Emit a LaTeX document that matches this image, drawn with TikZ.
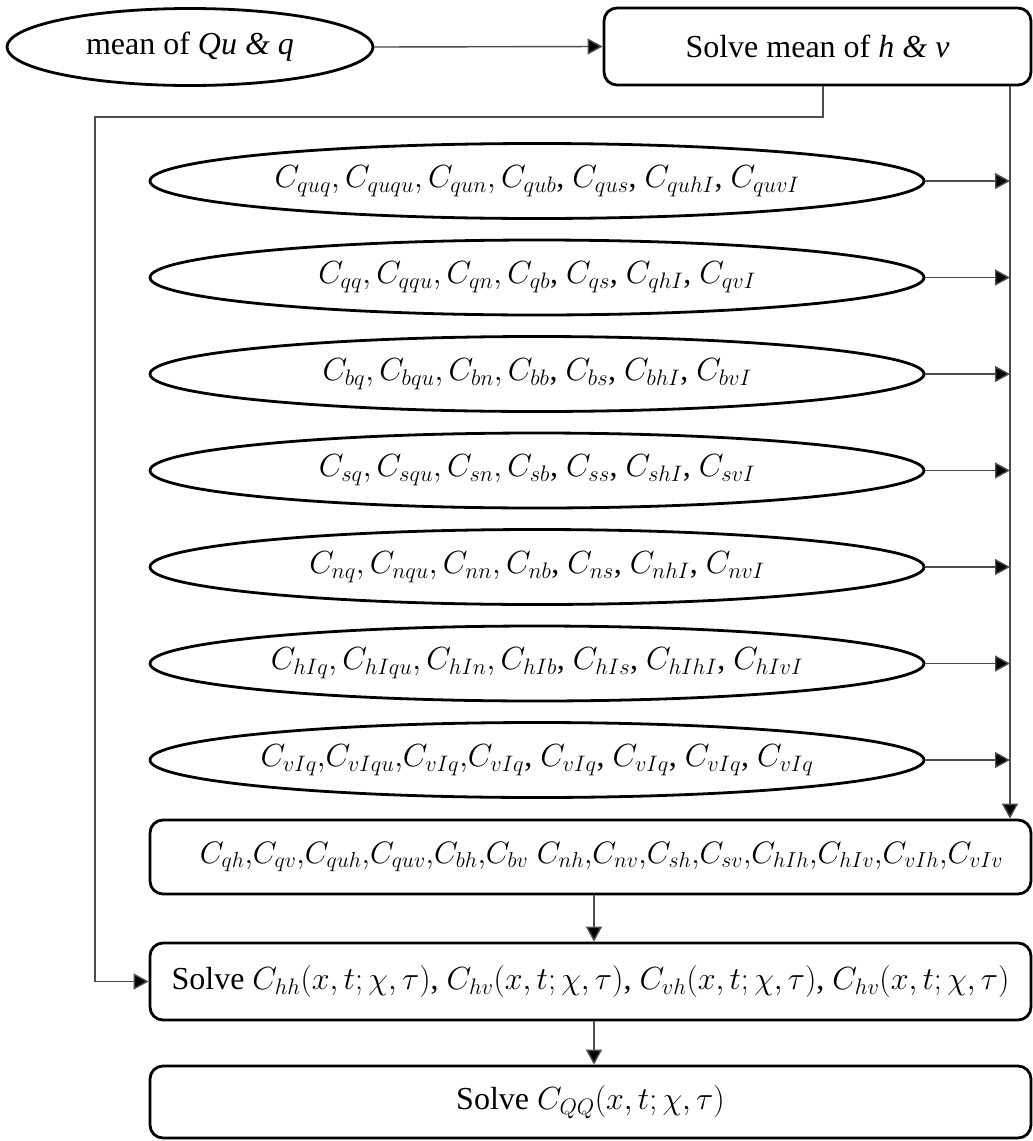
\RequirePackage{fix-cm}
\documentclass[tikz,border=0pt]{standalone}
\usepackage{fontspec}
\setmainfont{Liberation Serif}
\usetikzlibrary{shapes.geometric,arrows.meta}
\begin{document}
\begin{tikzpicture}[x=1pt,y=-1pt,
  every node/.style={font=\fontsize{32}{38}\selectfont},
  ell/.style={draw, ellipse, line width=2.8pt, inner xsep=-80pt, inner ysep=0pt, minimum width=774pt, minimum height=75pt},
  rbox/.style={draw, rounded corners=13pt, line width=2.8pt, inner sep=0pt},
  conn/.style={line width=1.4pt, draw=black!70, -{Triangle[length=15pt,width=16pt,fill=black]}}]
\useasboundingbox (0,0) rectangle (1033,1141);

\node[ell, inner xsep=0pt, minimum width=366pt, minimum height=77pt] (mq) at (190,47) {mean of \textit{Qu \& q}};
\node[rbox, minimum width=427pt, minimum height=77pt] (mh) at (817.5,46.5) {Solve mean of \textit{h \& v}};

\node[ell] (e1) at (537,181) {$C_{quq},C_{ququ},C_{qun},C_{qub}$, $C_{qus}$, $C_{quhI}$, $C_{quvI}$};
\node[ell] (e2) at (537,277.5) {$C_{qq},C_{qqu},C_{qn},C_{qb}$, $C_{qs}$, $C_{qhI}$, $C_{qvI}$};
\node[ell] (e3) at (537,374) {$C_{bq},C_{bqu},C_{bn},C_{bb}$, $C_{bs}$, $C_{bhI}$, $C_{bvI}$};
\node[ell] (e4) at (537,470.5) {$C_{sq},C_{squ},C_{sn},C_{sb}$, $C_{ss}$, $C_{shI}$, $C_{svI}$};
\node[ell] (e5) at (537,567) {$C_{nq},C_{nqu},C_{nn},C_{nb}$, $C_{ns}$, $C_{nhI}$, $C_{nvI}$};
\node[ell] (e6) at (537,663.5) {$C_{hIq},C_{hIqu},C_{hIn},C_{hIb}$, $C_{hIs}$, $C_{hIhI}$, $C_{hIvI}$};
\node[ell] (e7) at (537,760) {$C_{vIq}{,}C_{vIqu}{,}C_{vIq}{,}C_{vIq}$, $C_{vIq}$, $C_{vIq}$, $C_{vIq}$, $C_{vIq}$};

\node[rbox, minimum width=881pt, minimum height=74pt, font=\fontsize{31}{37}\selectfont] (cm) at (590.5,857)
  {\hspace*{22pt}$C_{qh}{,}C_{qv}{,}C_{quh}{,}C_{quv}{,}C_{bh}{,}C_{bv}\;C_{nh}{,}C_{nv}{,}C_{sh}{,}C_{sv}{,}C_{hIh}{,}C_{hIv}{,}C_{vIh}{,}C_{vIv}$};
\node[rbox, minimum width=881pt, minimum height=77pt] (sh) at (590.5,981.5)
  {Solve $C_{hh}(x,t;\chi,\tau)$, $C_{hv}(x,t;\chi,\tau)$, $C_{vh}(x,t;\chi,\tau)$, $C_{hv}(x,t;\chi,\tau)$};
\node[rbox, minimum width=881pt, minimum height=72pt] (sq) at (590.5,1102)
  {Solve $C_{QQ}(x,t;\chi,\tau)$};

\coordinate (rl) at (1010,0);
\coordinate (mk) at (823,0);
\coordinate (lk) at (95,117);
\coordinate (ax) at (594,0);

\draw[conn] (mq.east) -- (mh.west);
\draw[conn] (mh.south -| rl) -- (cm.north -| rl);
\draw[conn] (mh.south -| mk) |- (lk) |- (sh.west);
\foreach \e in {e1,e2,e3,e4,e5,e6,e7}
  \draw[conn] (\e.east) -- (\e.east -| rl);
\draw[conn] (cm.south -| ax) -- (sh.north -| ax);
\draw[conn] (sh.south -| ax) -- (sq.north -| ax);
\end{tikzpicture}
\end{document}
